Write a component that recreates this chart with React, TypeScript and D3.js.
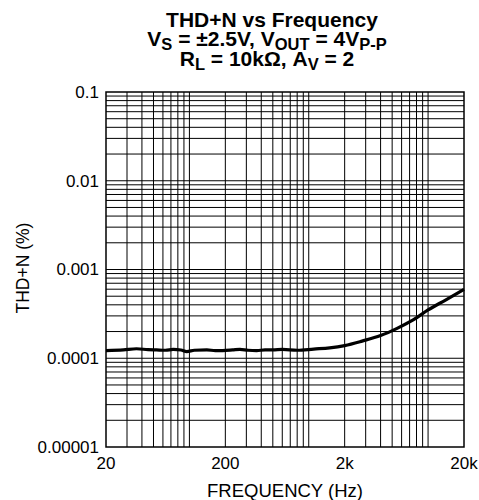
import React from "react";
import * as d3 from "d3";

// Measured THD+N over the audio band
const freqHz = [20, 28, 36, 45, 53, 63, 73, 85, 95, 110, 140, 165, 190, 230, 265, 310, 366, 430, 500, 600, 800, 1100, 1500, 2000, 2800, 4000, 5500, 7500, 10000, 14000, 20000];
const thdnPct = [1.22e-4, 1.24e-4, 1.28e-4, 1.25e-4, 1.24e-4, 1.23e-4, 1.26e-4, 1.24e-4, 1.19e-4, 1.23e-4, 1.24e-4, 1.22e-4, 1.22e-4, 1.24e-4, 1.26e-4, 1.23e-4, 1.22e-4, 1.24e-4, 1.24e-4, 1.26e-4, 1.23e-4, 1.27e-4, 1.31e-4, 1.39e-4, 1.56e-4, 1.80e-4, 2.17e-4, 2.70e-4, 3.50e-4, 4.53e-4, 5.98e-4];

const xTickValues = [20, 200, 2000, 20000];
const xTickLabels = ["20", "200", "2k", "20k"];
const yTickValues = [0.1, 0.01, 0.001, 0.0001, 0.00001];
const yTickLabels = ["0.1", "0.01", "0.001", "0.0001", "0.00001"];

const W = 479;
const H = 500;
const plot = { left: 106, right: 464, top: 92, bottom: 447 };
const FONT = "'Liberation Sans', Arial, Helvetica, sans-serif";

export default function App() {
  const x = d3.scaleLog().domain([20, 20000]).range([plot.left, plot.right]);
  const y = d3.scaleLog().domain([0.00001, 0.1]).range([plot.bottom, plot.top]);

  // Log grid: every 1..9 × decade inside the domain
  const xGrid: number[] = [];
  for (let e = 1; e <= 4; e++) {
    for (let m = 1; m <= 9; m++) {
      const v = m * Math.pow(10, e);
      if (v > 20 && v < 20000) xGrid.push(v);
    }
  }
  const yGrid: number[] = [];
  for (let e = -5; e <= -2; e++) {
    for (let m = 1; m <= 9; m++) {
      const v = m * Math.pow(10, e);
      if (v > 0.0000101 && v < 0.0999) yGrid.push(v);
    }
  }

  const line = d3
    .line<number>()
    .x((_, i) => x(freqHz[i]))
    .y((d) => y(d))
    .curve(d3.curveMonotoneX);

  const titleSize = 21;
  const subSize = 16.5;
  const subShift = 3.5;

  return (
    <svg
      width={W}
      height={H}
      style={{ position: "absolute", left: 0, top: 0, background: "#fff" }}
      fontFamily={FONT}
    >
      <g fill="#000" textAnchor="middle" fontWeight="bold" fontSize={titleSize}>
        <text x={272} y={27}>THD+N vs Frequency</text>
        <text x={267} y={46}>
          V<tspan fontSize={subSize} dy={subShift}>S</tspan>
          <tspan dy={-subShift}> = ±2.5V, V</tspan>
          <tspan fontSize={subSize} dy={subShift}>OUT</tspan>
          <tspan dy={-subShift}> = 4V</tspan>
          <tspan fontSize={subSize} dy={subShift}>P-P</tspan>
        </text>
        <text x={267} y={66}>
          R<tspan fontSize={subSize} dy={subShift}>L</tspan>
          <tspan dy={-subShift}> = 10kΩ, A</tspan>
          <tspan fontSize={subSize} dy={subShift}>V</tspan>
          <tspan dy={-subShift}> = 2</tspan>
        </text>
      </g>

      <g stroke="#000" strokeWidth={1}>
        {xGrid.map((v) => (
          <line key={"vx" + v} x1={x(v)} x2={x(v)} y1={plot.top} y2={plot.bottom} />
        ))}
        {yGrid.map((v) => (
          <line key={"hy" + v} x1={plot.left} x2={plot.right} y1={y(v)} y2={y(v)} />
        ))}
      </g>
      <rect
        x={plot.left}
        y={plot.top}
        width={plot.right - plot.left}
        height={plot.bottom - plot.top}
        fill="none"
        stroke="#000"
        strokeWidth={1.5}
      />

      <path d={line(thdnPct) || ""} fill="none" stroke="#000" strokeWidth={3.2} strokeLinejoin="round" />

      <g fill="#000" fontSize={17}>
        {yTickValues.map((v, i) => (
          <text key={"yt" + v} x={99} y={y(v)} dy="0.35em" textAnchor="end">
            {yTickLabels[i]}
          </text>
        ))}
        {xTickValues.map((v, i) => (
          <text key={"xt" + v} x={x(v)} y={469} textAnchor="middle">
            {xTickLabels[i]}
          </text>
        ))}
      </g>

      <text x={285} y={497} textAnchor="middle" fontSize={18.5} fill="#000">
        FREQUENCY (Hz)
      </text>
      <text
        transform={`translate(29, 268) rotate(-90)`}
        textAnchor="middle"
        fontSize={17.5}
        fill="#000"
      >
        THD+N (%)
      </text>
    </svg>
  );
}
